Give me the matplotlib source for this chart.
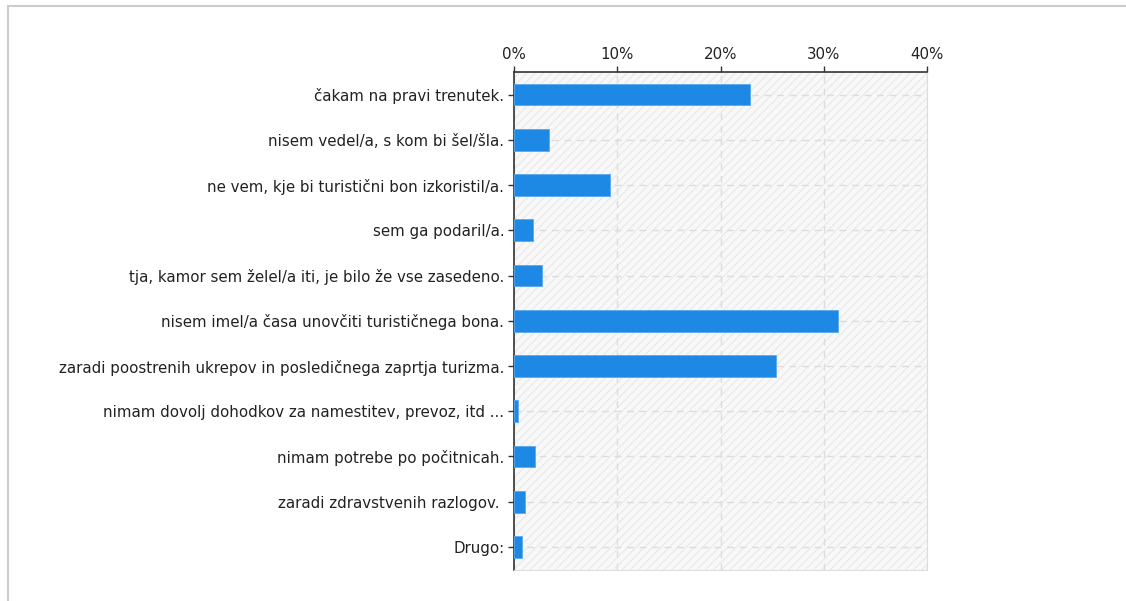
import matplotlib
matplotlib.use("Agg")
import matplotlib.pyplot as plt
import matplotlib.patches as mpatches
from matplotlib.ticker import PercentFormatter

categories = [
    "čakam na pravi trenutek.",
    "nisem vedel/a, s kom bi šel/šla.",
    "ne vem, kje bi turistični bon izkoristil/a.",
    "sem ga podaril/a.",
    "tja, kamor sem želel/a iti, je bilo že vse zasedeno.",
    "nisem imel/a časa unovčiti turističnega bona.",
    "zaradi poostrenih ukrepov in posledičnega zaprtja turizma.",
    "nimam dovolj dohodkov za namestitev, prevoz, itd ...",
    "nimam potrebe po počitnicah.",
    "zaradi zdravstvenih razlogov. ",
    "Drugo:",
]
values = [22.9, 3.4, 9.3, 1.8, 2.7, 31.4, 25.4, 0.4, 2.0, 1.1, 0.8]
ticks = [0, 10, 20, 30, 40]

W, H = 1126, 601
plt.rcParams["hatch.color"] = "#ebebeb"
plt.rcParams["hatch.linewidth"] = 0.8
fig = plt.figure(figsize=(W / 100, H / 100), dpi=100)

# cadre gris clair autour de la figure
fig.patches.append(mpatches.Rectangle((8 / W, -0.01), 1.1, (H - 6) / H + 0.01,
                                      transform=fig.transFigure, fill=False,
                                      edgecolor="#cccccc", linewidth=1.5))

ax = fig.add_axes([514 / W, 1 - 570 / H, (927 - 514) / W, (570 - 72) / H])
ax.set_facecolor("#f8f8f8")
bg = mpatches.Rectangle((0, 0), 1, 1, transform=ax.transAxes, facecolor="none",
                        edgecolor="#e8e8e8", hatch="////", linewidth=0, zorder=0)
ax.add_patch(bg)

y = list(range(len(categories)))
ax.barh(y, values, height=0.48, color="#1e88e5", edgecolor="#5aa9ef",
        linewidth=0.6, zorder=3)

ax.set_xlim(0, 40)
ax.set_ylim(len(categories) - 0.5 + 0.01, -0.5)
ax.set_xticks(ticks)
ax.xaxis.set_major_formatter(PercentFormatter(decimals=0))
ax.xaxis.tick_top()
ax.set_yticks(y)
ax.set_yticklabels(categories)
ax.tick_params(axis="both", labelsize=10.8, colors="#333333", length=4,
               width=1, pad=3, labelcolor="#222222")
ax.grid(True, color="#dddddd", linestyle=(0, (5, 4)), linewidth=1, zorder=1)

for side in ["bottom", "right"]:
    ax.spines[side].set_color("#dddddd")
ax.spines["top"].set_color("#333333")
ax.spines["left"].set_color("#333333")
ax.spines["top"].set_linewidth(1.2)
ax.spines["left"].set_linewidth(1.2)

plt.savefig("out.png", dpi=100)
plt.close()
